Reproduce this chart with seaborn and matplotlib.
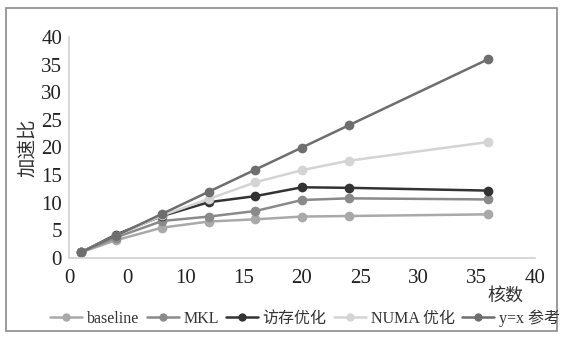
import matplotlib
matplotlib.use("Agg")
import matplotlib.pyplot as plt
import seaborn as sns
import pandas as pd
from matplotlib.patches import Rectangle
from matplotlib.lines import Line2D

cores = [1, 4, 8, 12, 16, 20, 24, 36]
baseline = [1, 3.2, 5.5, 6.6, 7.0, 7.5, 7.6, 7.9]
mkl = [1, 3.7, 6.7, 7.5, 8.5, 10.5, 10.8, 10.6]
memopt = [1, 4.2, 7.6, 10.1, 11.2, 12.8, 12.7, 12.2]
numa = [1, 4.0, 7.7, 10.7, 13.7, 15.9, 17.6, 21.0]
ref = [1, 4, 8, 12, 16, 20, 24, 36]

series_names = ["baseline", "MKL", "访存优化", "NUMA 优化", "y=x 参考"]
series_vals = [baseline, mkl, memopt, numa, ref]
colors = ["#a9a9a9", "#8a8a8a", "#333333", "#d4d4d4", "#6e6e6e"]

xticks = [0, 5, 10, 15, 20, 25, 30, 35, 40]
xticklabels = ["0", "0", "10", "15", "20", "25", "30", "35", "40"]
yticks = [0, 5, 10, 15, 20, 25, 30, 35, 40]

rows = []
for name, vals in zip(series_names, series_vals):
    for c, v in zip(cores, vals):
        rows.append({"核数": c, "加速比": v, "series": name})
df = pd.DataFrame(rows)

sns.set_style("white")
plt.rcParams["font.family"] = ["Liberation Serif", "Noto Sans CJK SC"]

fig = plt.figure(figsize=(5.65, 3.4), dpi=100)
ax = fig.add_axes([69 / 565, 1 - 258 / 340, (535 - 69) / 565, (258 - 37) / 340])

sns.lineplot(data=df, x="核数", y="加速比", hue="series", hue_order=series_names,
             palette=colors, marker="o", markersize=7, markeredgewidth=0,
             linewidth=1.8, ax=ax, legend=False)

ax.set_xlim(0, 40)
ax.set_ylim(0, 40)
ax.set_xticks(xticks)
ax.set_xticklabels(xticklabels)
ax.set_yticks(yticks)
ax.tick_params(axis="both", length=0, labelsize=15, colors="#222222")
ax.tick_params(axis="x", pad=8)
ax.tick_params(axis="y", pad=5)
ax.set_xlabel("")
ax.set_ylabel("加速比", fontsize=14, color="#333333", labelpad=3)
for s in ["top", "right"]:
    ax.spines[s].set_visible(False)
for s in ["left", "bottom"]:
    ax.spines[s].set_color("#d0d0d0")
    ax.spines[s].set_linewidth(1.2)

fig.text(505 / 565, 1 - 297 / 340, "核数", fontsize=13, color="#333333",
         ha="center", va="center")

handles = [Line2D([0], [0], color=c, marker="o", markersize=6, markeredgewidth=0,
                  linewidth=1.8) for c in colors]
fig.legend(handles, series_names, loc="center", ncol=5,
           bbox_to_anchor=(305 / 565, 1 - 318 / 340), frameon=False,
           fontsize=11.5, handlelength=2.0, handletextpad=0.3, columnspacing=0.45,
           labelcolor="#333333")

fig.patches.append(Rectangle((6 / 565, 1 - 331 / 340), (557 - 6) / 565, (331 - 8) / 340,
                             transform=fig.transFigure, fill=False,
                             edgecolor="#8a8a8a", linewidth=1.2))

fig.savefig("out.png", dpi=100)
